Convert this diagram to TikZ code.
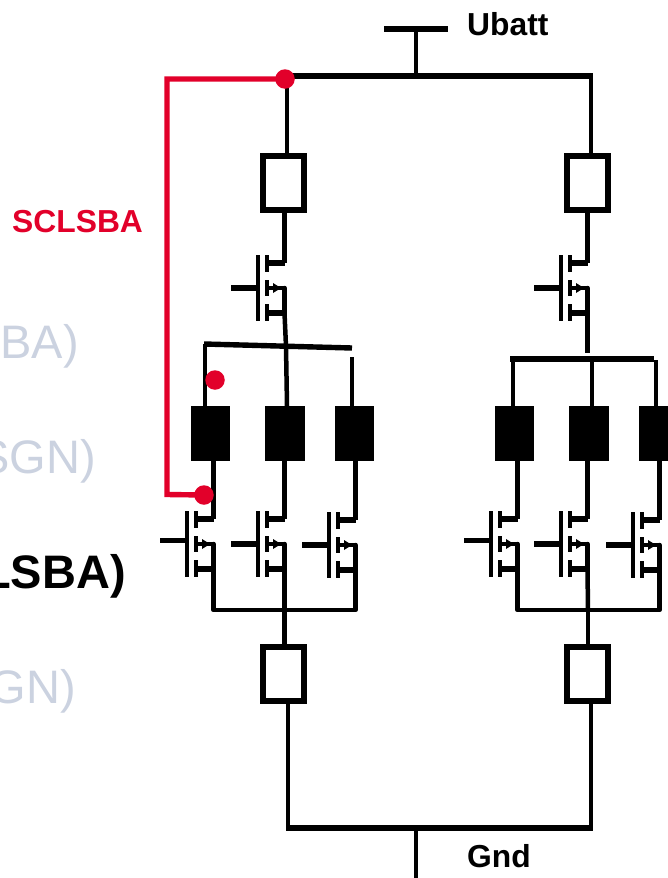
\documentclass[tikz,border=0pt]{standalone}
\usepackage{fontspec}
\setmainfont{Liberation Sans}
\definecolor{sred}{HTML}{E2002A}
\definecolor{sgray}{HTML}{CBD2E0}
\tikzset{
  wire/.style={line width=4.5pt,black,line cap=round,line join=round},
  bus/.style={line width=5.4pt,black,line cap=butt,line join=round},
  redwire/.style={line width=5.4pt,sred,line join=miter},
  dot/.style={circle,fill=sred,draw=none,inner sep=0pt,minimum size=19.5pt},
  coil/.style={rectangle,fill=black,draw=none,inner sep=0pt,minimum width=39.5pt,minimum height=55pt},
  shunt/.style={rectangle,fill=white,draw=black,line width=6pt,inner sep=0pt,minimum width=41pt,minimum height=54pt},
  lab/.style={font=\bfseries\fontsize{31.8}{32}\selectfont,inner sep=0pt,anchor=base west},
  bigtxt/.style={font=\fontsize{47}{47}\selectfont,text=sgray,inner sep=0pt,anchor=base east}
}
% name, bar x, centre y, gate y, gate width
\newcommand{\myfet}[5]{%
  \coordinate (#1-b) at (#2,#3);
  \coordinate (#1-g) at (#2-27,#4);
  \coordinate (#1-gb) at (#2,#4);
  \coordinate (#1-d) at (#2+26.5,#3-25);
  \coordinate (#1-s) at (#2+26.5,#3);
  \coordinate (#1-m) at (#2+26.5,#3+25);
  \draw[line width=4.6pt,black] (#2,#3-33) -- (#2,#3+33);
  \draw[line width=4.6pt,black] (#2+9,#3-33) -- (#2+9,#3-16);
  \draw[line width=4.6pt,black] (#2+9,#3-8) -- (#2+9,#3+8);
  \draw[line width=4.6pt,black] (#2+9,#3+16) -- (#2+9,#3+33);
  \draw[line width=#5,black] (#1-g) -- (#1-gb);
  \draw[line width=6pt,black] (#2+9,#3-25) -- (#1-d);
  \draw[line width=4.6pt,black] (#2+9,#3) -- (#1-s);
  \draw[line width=6pt,black] (#2+9,#3+25) -- (#1-m);
  \fill[black] (#2+23,#3) -- (#2+15,#3-5) -- (#2+15,#3+5) -- cycle;
  \draw[wire] (#1-s) -- (#1-m);
}
\begin{document}
\begin{tikzpicture}[x=1pt,y=-1pt]
\useasboundingbox (0,0) rectangle (668,878);
% gray / black background text
\node[bigtxt] (t1) at (79,358) {BA)};
\node[bigtxt] (t2) at (96,473) {SGN)};
\node[bigtxt,text=black,font=\bfseries\fontsize{47}{47}\selectfont] (t3) at (126,588) {LSBA)};
\node[bigtxt] (t4) at (76,703) {GN)};
\node[lab] (ubatt) at (467,35) {Ubatt};
\node[lab] (gnd) at (467,867) {Gnd};
\node[lab,text=sred] (scl) at (12,232) {SCLSBA};

% supply symbols
\coordinate (ubL) at (384,29); \coordinate (ubR) at (448,29); \coordinate (ubM) at (416,29);
\coordinate (ubJ) at (416,76);
\coordinate (gnM) at (416,828); \coordinate (gnE) at (416,878);
\coordinate (topL) at (284,76); \coordinate (topR) at (593,76);
\coordinate (botL) at (286,828); \coordinate (botR) at (593,828);
\draw[bus] (ubL) -- (ubR);
\draw[wire,line cap=butt] (ubM) -- (ubJ);
\draw[wire,line cap=butt] (gnM) -- (gnE);
\draw[bus] (topL) -- (topR);
\draw[bus] (botL) -- (botR);

% shunts
\node[shunt] (sTL) at (283,182.5) {};
\node[shunt] (sTR) at (587,182.5) {};
\node[shunt] (sBL) at (283,673.5) {};
\node[shunt] (sBR) at (587,673.5) {};
% coils
\node[coil] (c1) at (210.5,433.5) {};
\node[coil] (c2) at (285,433.5) {};
\node[coil] (c3) at (354.5,433.5) {};
\node[coil] (c4) at (514.5,433.5) {};
\node[coil] (c5) at (589,433.5) {};
\node[coil] (c6) at (658.5,433.5) {};

% transistors
\myfet{qTL}{258}{288}{288}{6pt}
\myfet{qTR}{561}{288}{288}{6pt}
\myfet{q1}{187}{544}{540}{5pt}
\myfet{q2}{258}{544}{544}{6.5pt}
\myfet{q3}{329}{545}{545}{6.5pt}
\myfet{q4}{491}{544}{540}{5pt}
\myfet{q5}{561}{544}{544}{6.5pt}
\myfet{q6}{633}{545}{545}{6.5pt}

% phase-group wires, left
\coordinate (bA) at (204,344); \coordinate (bB) at (352,348);
\coordinate (bM) at (286,346.5);
\coordinate (d3) at (352,357);
\draw[bus] (bA) -- (bB);
\draw[wire,line cap=butt] (205,344) -- (205,406);
\draw[wire,line cap=butt] (bM) -- (287,406);
\draw[wire,line cap=butt] (d3) -- (d3 |- c3.north);
\draw[wire,line cap=butt] (qTL-m) -- (bM);
\draw[wire,line cap=butt] (287,76) -- (287,153);
\draw[wire,line cap=butt] (284.5,212) -- (qTL-d);
% phase-group wires, right
\coordinate (bC) at (513,359); \coordinate (bD) at (654,359);
\coordinate (bE) at (592,359);
\draw[bus,line width=6pt] (510,359) -- (bD);
\draw[wire,line cap=butt] (bC) -- (bC |- c4.north);
\draw[wire,line cap=butt] (bE) -- (bE |- c5.north);
\draw[wire,line cap=butt] (656,360) -- (656,406);
\draw[wire,line cap=butt] (qTR-m) -- (587.5,353);
\draw[wire,line cap=butt] (591,76) -- (591,153);
\draw[wire,line cap=butt] (587.5,212) -- (qTR-d);

% coil to transistor
\foreach \q/\c in {q1/c1,q2/c2,q3/c3,q4/c4,q5/c5,q6/c6}{
  \draw[wire,line cap=butt] (\q-d |- \c.south) -- (\q-d);
}
% lower busses
\coordinate (l1) at (213.5,610); \coordinate (l3) at (355.5,610); \coordinate (lM) at (284.5,610);
\coordinate (r1) at (517.5,610); \coordinate (r3) at (659.5,610); \coordinate (rM) at (588,610);
\draw[wire] (q1-m) -- (l1) -- (l3) -- (q3-m);
\draw[wire] (q2-m) -- (lM);
\draw[wire] (q4-m) -- (r1) -- (r3) -- (q6-m);
\draw[wire] (q5-m) -- (rM);
\draw[wire,line cap=butt] (lM) -- (lM |- sBL.north);
\draw[wire,line cap=butt] (rM) -- (rM |- sBR.north);
\draw[wire,line cap=butt] (288,702) -- (288,828);
\draw[wire,line cap=butt] (591,702) -- (591,828);

% red
\node[dot] (r-top) at (285,79) {};
\node[dot] (r-mid) at (215,380) {};
\node[dot] (r-low) at (204,495) {};
\coordinate (rc1) at (167,79); \coordinate (rc2) at (167,494.5);
\draw[redwire] (r-top.center) -- (rc1) -- (rc2) -- (r-low.center);
\end{tikzpicture}
\end{document}
